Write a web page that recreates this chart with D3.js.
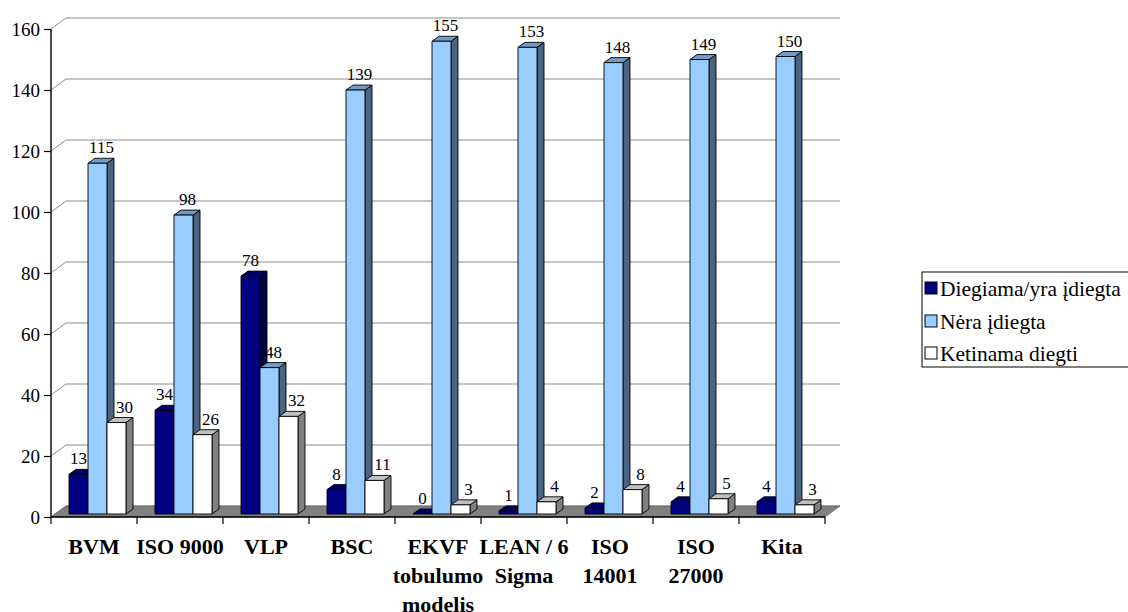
<!DOCTYPE html>
<html><head><meta charset="utf-8">
<script src="https://cdn.jsdelivr.net/npm/d3@7"></script>
<style>
body{margin:0;background:#fff}
svg{display:block}
</style>
</head><body>
<svg id="chart" width="1128" height="612" font-family="Liberation Serif"></svg>
<script>
// ---- data ----
const categories = ["BVM","ISO 9000","VLP","BSC","EKVF tobulumo modelis","LEAN / 6 Sigma","ISO 14001","ISO 27000","Kita"];
const categoryLines = [["BVM"],["ISO 9000"],["VLP"],["BSC"],["EKVF","tobulumo","modelis"],["LEAN / 6","Sigma"],["ISO","14001"],["ISO","27000"],["Kita"]];
const seriesNames = ["Diegiama/yra įdiegta","Nėra įdiegta","Ketinama diegti"];
const diegiama = [13,34,78,8,0,1,2,4,4];
const nera = [115,98,48,139,155,153,148,149,150];
const ketinama = [30,26,32,11,3,4,8,5,3];
const yTicks = [0,20,40,60,80,100,120,140,160];

const seriesValues = [diegiama, nera, ketinama];
const FONT = "Liberation Serif";
const faceColors = [
  {front:"#000080", top:"#00006a", side:"#00004a"},
  {front:"#99ccff", top:"#729bc8", side:"#4a6584"},
  {front:"#ffffff", top:"#c0c0c0", side:"#808080"}
];
const labelShift = [0, 4, 8];

const svg = d3.select("#chart");
const x0 = d3.scaleBand().domain(categories).range([51, 825]);
const y = d3.scaleLinear().domain([0,160]).range([517, 29]);
const wall = {dx:15, dy:-11};
const front = {dx:3.5, dy:-3};
const depth = {dx:7, dy:-5};
const groupW = 57;
const x1 = d3.scaleBand().domain(seriesNames).range([0, groupW]);

// gridlines (side wall + back wall)
const grid = svg.append("g");
yTicks.forEach(t => {
  const yy = y(t);
  grid.append("polyline")
    .attr("points", `51,${yy} ${51+wall.dx},${yy+wall.dy} ${825+wall.dx},${yy+wall.dy}`)
    .attr("fill","none").attr("stroke","#8c8c8c").attr("stroke-width",1);
});

// floor
svg.append("polygon")
  .attr("points", `51,${y(0)} 825,${y(0)} ${825+wall.dx},${y(0)+wall.dy} ${51+wall.dx},${y(0)+wall.dy}`)
  .attr("fill","#808080").attr("stroke","#555").attr("stroke-width",0.6);

// bars
const bars = svg.append("g");
const labels = svg.append("g");
categories.forEach((c, ci) => {
  seriesNames.forEach((s, si) => {
    const v = seriesValues[si][ci];
    const w = x1.bandwidth();
    const x = x0(c) + (x0.bandwidth()-groupW)/2 + x1(s) + front.dx;
    const yt = y(v) + front.dy;
    const yb = y(0) + front.dy;
    const col = faceColors[si];
    const g = bars.append("g").attr("stroke","#000").attr("stroke-width",0.9).attr("stroke-linejoin","round");
    g.append("polygon")
      .attr("points", `${x+w},${yt} ${x+w+depth.dx},${yt+depth.dy} ${x+w+depth.dx},${yb+depth.dy} ${x+w},${yb}`)
      .attr("fill", col.side);
    g.append("polygon")
      .attr("points", `${x},${yt} ${x+w},${yt} ${x+w+depth.dx},${yt+depth.dy} ${x+depth.dx},${yt+depth.dy}`)
      .attr("fill", col.top);
    g.append("rect").attr("x", x).attr("y", yt).attr("width", w).attr("height", yb-yt)
      .attr("fill", col.front);
    labels.append("text")
      .attr("x", x + w/2 + labelShift[si])
      .attr("y", yt - 10)
      .attr("text-anchor","middle")
      .style("font-size", "17px")
      .text(v);
  });
});

// y axis
const yAxis = svg.append("g").attr("transform","translate(51,0)")
  .call(d3.axisLeft(y).tickValues(yTicks).tickSize(7).tickPadding(4).tickFormat(d3.format("d")));
yAxis.attr("font-family", FONT);
yAxis.select(".domain").attr("d", `M0,${y(160)}V${y(0)}`).attr("stroke","#000").attr("stroke-width",1.4);
yAxis.selectAll(".tick line").attr("stroke","#000").attr("stroke-width",1.2);
yAxis.selectAll(".tick text").style("font-size","19px");

// x axis
const xAxis = svg.append("g").attr("transform",`translate(0,${y(0)})`)
  .call(d3.axisBottom(x0).tickSize(0).tickFormat(""));
xAxis.attr("font-family", FONT);
xAxis.select(".domain").attr("d", `M51,0H825`).attr("stroke","#000").attr("stroke-width",1.4);
const bounds = categories.map(c => x0(c)).concat([x0.range()[1]]);
bounds.forEach(b => {
  xAxis.append("line").attr("x1",b).attr("x2",b).attr("y1",0).attr("y2",7)
    .attr("stroke","#000").attr("stroke-width",1.2);
});
xAxis.selectAll(".tick").each(function(d, i){
  const t = d3.select(this).select("text");
  t.text(null).attr("y", 0).attr("dy", null)
    .style("font-size","22px").style("font-weight","bold");
  categoryLines[i].forEach((line, li) => {
    t.append("tspan").attr("x",0).attr("y", 37 + li*29).text(line);
  });
});

// legend
const lg = svg.append("g");
lg.append("rect").attr("x",922).attr("y",272).attr("width",215).attr("height",95)
  .attr("fill","#fff").attr("stroke","#000").attr("stroke-width",1);
const legY = [288, 321, 353];
seriesNames.forEach((s, si) => {
  lg.append("rect").attr("x",925).attr("y",legY[si]-6).attr("width",12).attr("height",12)
    .attr("fill", faceColors[si].front).attr("stroke","#000").attr("stroke-width",1);
  lg.append("text").attr("x",940).attr("y",legY[si]).attr("dy","0.35em")
    .style("font-size","21.5px").text(s);
});

svg.selectAll("text").style("font-family", FONT).style("fill", "#000");
</script>
</body></html>
